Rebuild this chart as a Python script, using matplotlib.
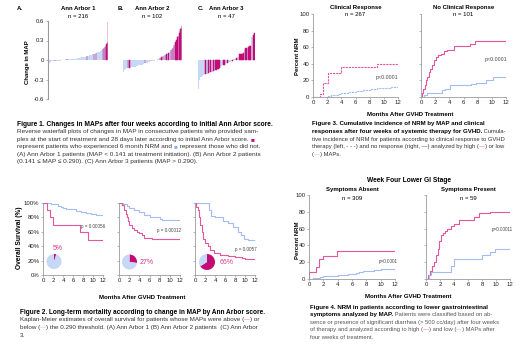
import matplotlib
matplotlib.use("Agg")
import matplotlib.pyplot as plt

plt.rcParams['font.family'] = ['Liberation Sans', 'DejaVu Sans']

# ---------------- data ----------------
# Figure 1: sorted change in MAP, one bar per patient
aa1_change = [
    -0.07, -0.06, -0.05, -0.05, -0.04, -0.04, -0.04, -0.03, -0.03, -0.03,
    -0.03, -0.03, -0.02, -0.02, -0.02, -0.02, -0.02, -0.02, -0.02, -0.02,
    -0.02, -0.02, -0.02, -0.02, -0.02, -0.02, -0.01, -0.01, -0.01, -0.01,
    -0.01, -0.01, -0.01, -0.01, -0.01,
    -0.01, -0.01, -0.01, -0.01, -0.01, -0.01, -0.01, -0.01, -0.01, -0.01,
    0.00, 0.00, 0.00, 0.00, 0.00, 0.00, 0.00, 0.00, 0.00, 0.00,
    0.00, 0.00, 0.00, 0.00, 0.00, 0.01, 0.01, 0.01, 0.01, 0.01,
    0.01, 0.01, 0.01, 0.01, 0.01, 0.01, 0.01, 0.01, 0.01, 0.01,
    0.01, 0.01, 0.01, 0.01, 0.01,
    0.01, 0.01, 0.01, 0.01, 0.01, 0.01, 0.01, 0.01, 0.01, 0.01,
    0.02, 0.02, 0.02, 0.02, 0.02, 0.02, 0.02, 0.02, 0.02, 0.02,
    0.02, 0.02, 0.02, 0.02, 0.03, 0.03, 0.03, 0.03, 0.03, 0.03,
    0.03, 0.03, 0.03, 0.03, 0.03, 0.03, 0.03, 0.04, 0.04, 0.04,
    0.04, 0.04, 0.04, 0.04, 0.04, 0.04, 0.04, 0.04, 0.04, 0.05,
    0.05, 0.05, 0.05, 0.05, 0.05, 0.05, 0.05, 0.05, 0.06, 0.06,
    0.06, 0.06, 0.06, 0.06, 0.06, 0.06, 0.07, 0.07, 0.07, 0.07,
    0.07, 0.07, 0.07, 0.08, 0.08, 0.08, 0.08, 0.08, 0.08, 0.09,
    0.09, 0.09, 0.09, 0.09, 0.09, 0.10, 0.10, 0.10, 0.10, 0.10,
    0.10, 0.10, 0.11, 0.11, 0.11, 0.11, 0.11, 0.11, 0.12, 0.12,
    0.12, 0.12, 0.12, 0.12, 0.13,
    0.13, 0.13, 0.13, 0.14, 0.14, 0.14, 0.15, 0.15, 0.15, 0.16,
    0.16, 0.17, 0.17, 0.17, 0.18, 0.18, 0.19, 0.19, 0.20, 0.20,
    0.21, 0.21, 0.22, 0.22, 0.23, 0.24, 0.25, 0.26, 0.27, 0.27,
    0.58,
]
aa1_nrm = [25, 68, 140, 165, 172, 196, 200, 204, 207, 210, 212, 214, 215]

aa2_change = [
    -0.18, -0.17, -0.16, -0.15, -0.14, -0.14, -0.13, -0.13, -0.13, -0.12,
    -0.12, -0.12, -0.12, -0.11, -0.11, -0.11, -0.11, -0.10, -0.10, -0.10,
    -0.10, -0.10, -0.09, -0.09, -0.09, -0.09, -0.08, -0.08, -0.08, -0.08,
    -0.07, -0.07, -0.07, -0.07, -0.06, -0.06, -0.06, -0.05, -0.05, -0.05,
    -0.04, -0.04, -0.04, -0.03, -0.03, -0.03, -0.02, -0.02, -0.02, -0.02,
    -0.01, -0.01, -0.01, -0.01, -0.01, 0.00, 0.00, 0.00,
    0.00, 0.01, 0.01, 0.02, 0.02, 0.03, 0.03, 0.04, 0.04, 0.05,
    0.05, 0.06, 0.06, 0.07, 0.07, 0.08, 0.08, 0.09, 0.10, 0.10,
    0.11, 0.12, 0.13, 0.14, 0.15, 0.16, 0.17, 0.18, 0.19, 0.21,
    0.23, 0.25, 0.27, 0.29, 0.31, 0.33, 0.35, 0.37, 0.39, 0.42,
    0.44, 0.47, 0.50, 0.53,
]
aa2_nrm = [8, 11, 38, 63, 66, 69, 72, 75, 78, 82, 84, 86, 88, 90, 92,
           94, 95, 97, 98, 99, 100, 101]

aa3_change = [
    -0.45, -0.30, -0.26, -0.24, -0.23, -0.22, -0.21, -0.21, -0.20, -0.19,
    -0.19, -0.18, -0.17, -0.16, -0.16, -0.15, -0.14, -0.12, -0.10, -0.09,
    -0.08, -0.07, -0.06, -0.05, -0.04, -0.03, -0.03, -0.02, -0.01, 0.01,
    0.02, 0.03, 0.04, 0.05, 0.09, 0.10, 0.10, 0.11, 0.16, 0.18,
    0.19, 0.20, 0.21, 0.22, 0.36, 0.38, 0.42,
]
aa3_nrm = [6, 8, 10, 12, 14, 15, 16, 17, 21, 24, 28, 31, 34, 35, 36, 37,
           39, 41, 42, 43, 45, 46]

# Figure 2: overall survival (%), high vs low MAP, three Ann Arbor groups
os1_hi_t = [0, 0.7, 1.4, 1.9, 7.4, 8.9, 12]
os1_hi = [100, 90, 80, 70, 60, 48, 48]
os1_lo_t = [0, 1.5, 2.5, 3.0, 3.5, 4.0, 4.5, 5.5, 6.5, 7.5, 8.5, 9.5, 10.5, 12]
os1_lo = [100, 99, 98, 96, 95, 93, 92, 91, 89, 88, 86, 85, 83, 82]
os2_hi_t = [0, 0.5, 1.0, 1.3, 1.6, 1.8, 2.0, 2.6, 3.0, 3.5, 4.0, 4.5, 5.0, 6.5, 12]
os2_hi = [100, 97, 90, 85, 80, 75, 70, 65, 62, 60, 58, 55, 52, 50, 50]
os2_lo_t = [0, 0.7, 1.0, 1.5, 2.0, 3.0, 4.0, 5.0, 6.0, 8.0, 8.5, 12]
os2_lo = [100, 99, 98, 96, 93, 90, 87, 84, 80, 78, 77, 77]
os3_hi_t = [0, 0.2, 0.5, 0.8, 1.0, 1.3, 1.6, 2.0, 2.5, 3.0, 3.8, 5.0, 6.5, 8.0, 9.3, 10.0, 12]
os3_hi = [100, 95, 90, 80, 70, 60, 50, 45, 40, 35, 30, 28, 27, 25, 23, 22, 22]
os3_lo_t = [0, 2.7, 3.2, 4.0, 5.5, 6.5, 7.5, 8.5, 9.2, 9.8, 10.5, 12]
os3_lo = [100, 90, 82, 80, 75, 72, 67, 60, 55, 50, 48, 48]
pie_hi_pct = [5, 27, 66]
os_pvals = ["p = 0.00056", "p = 0.00012", "p = 0.0057"]

# Figure 3: cumulative NRM (%), by clinical response
cr_hi_t = [0, 1.0, 1.45, 2.05, 4.0, 9.0, 12]
cr_hi = [0, 4, 17, 29, 36, 40, 40]
cr_lo_t = [0, 2.0, 2.5, 3.0, 3.5, 4.0, 5, 6, 7, 8, 9, 10, 11, 12]
cr_lo = [0, 1, 2, 3, 4, 5, 5.5, 7, 8, 10, 11, 11, 12, 12]
ncr_hi_t = [0, 0.15, 0.3, 0.5, 0.7, 0.9, 1.1, 1.3, 1.5, 1.8, 2.1, 2.4, 2.8, 3.2,
            3.6, 4.7, 6.9, 7.6, 12]
ncr_hi = [0, 5, 10, 14, 20, 24, 30, 34, 38, 44, 48, 50, 52, 55, 57, 62, 64, 67, 67]
ncr_lo_t = [0, 0.4, 0.8, 2.7, 3.0, 3.4, 4.1, 6.0, 7.0, 7.8, 9.2, 10.2, 12]
ncr_lo = [0, 2, 5, 5, 8, 10, 14, 15, 16, 17, 20, 24, 24]

# Figure 4: cumulative NRM (%), by lower GI symptoms
abs_hi_t = [0, 0.05, 1.0, 1.45, 1.9, 3.9, 12]
abs_hi = [0, 8, 14, 24, 27, 33, 33]
abs_lo_t = [0, 0.5, 1.5, 2.0, 3.5, 4.0, 5.5, 6.5, 7.0, 7.5, 8.0, 9.0, 10.0, 12]
abs_lo = [0, 1, 2, 3, 4, 5, 6, 7, 8, 9, 10, 11, 12, 13]
pres_hi_t = [0, 0.3, 0.6, 0.8, 1.1, 1.4, 1.7, 1.9, 2.1, 2.4, 2.7, 3.0, 3.5, 4.0,
             4.7, 6.8, 7.5, 9.1, 12]
pres_hi = [0, 5, 10, 15, 20, 28, 36, 45, 52, 55, 57, 60, 63, 65, 70, 74, 78, 80, 80]
pres_lo_t = [0, 0.4, 0.7, 3.2, 3.5, 4.0, 7.0, 8.0, 9.1, 9.8, 12]
pres_lo = [0, 5, 8, 8, 16, 24, 24, 28, 32, 36, 37]

# ---------------- styling ----------------
W, H = 520, 357
MAGENTA = '#c40c77'
PINK = '#e5579c'
LBLUE = '#c6d8f6'
BLUE = '#a4bdf0'
GRAY = '#9a9a9a'
TXT = '#333333'
FS = 4.3

fig = plt.figure(figsize=(5.2, 3.57), dpi=100)

over = fig.add_axes([0, 0, 1, 1])
over.set_xlim(0, W)
over.set_ylim(H, 0)
over.axis('off')
over.set_zorder(10)


def px_axes(x0, y0, x1, y1):
    return fig.add_axes([x0 / W, 1 - y1 / H, (x1 - x0) / W, (y1 - y0) / H])


def txt(x, y, s, size=FS, weight='bold', color='black', ha='center', **kw):
    return over.text(x, y, s, fontsize=size, fontweight=weight, color=color,
                     ha=ha, va='center', **kw)


def rich(x, y, parts, size=FS):
    prev = None
    for s, c, w in parts:
        # bold runs a touch larger, like the source layout
        fs = size + 0.2 if w == 'bold' else size
        if prev is None:
            prev = over.text(x, y, s, fontsize=fs, color=c, fontweight=w,
                             ha='left', va='center')
        else:
            prev = over.annotate(s, xy=(1, 0), xycoords=prev, fontsize=fs,
                                 color=c, fontweight=w, ha='left', va='bottom')


def caption(x, y0, step, lines, size=FS):
    for i, parts in enumerate(lines):
        rich(x, y0 + i * step, parts, size)


def curve_axes(ax, show_y, pct=False):
    for s in ['top', 'right']:
        ax.spines[s].set_visible(False)
    for s in ['left', 'bottom']:
        ax.spines[s].set_color(GRAY)
        ax.spines[s].set_linewidth(0.6)
    ax.set_xlim(0, 12)
    ax.set_ylim(0, 100)
    ax.set_xticks(range(0, 13, 2))
    ax.set_yticks(range(0, 101, 20))
    if pct:
        ax.set_yticklabels([f"{v}%" for v in range(0, 101, 20)])
    if not show_y:
        ax.set_yticklabels([])
    ax.tick_params(labelsize=FS, length=1.5, width=0.5, pad=1,
                   color=GRAY, labelcolor='#222222')


# ---------------- Figure 1: waterfall plots ----------------
panels1 = [(48, 108, aa1_change, aa1_nrm, "A.", "Ann Arbor 1", "n = 216"),
           (123, 182, aa2_change, aa2_nrm, "B.", "Ann Arbor 2", "n = 102"),
           (198, 255, aa3_change, aa3_nrm, "C.", "Ann Arbor 3", "n = 47")]
for k, (x0, x1, vals, nrm, lab, title, n) in enumerate(panels1):
    ax = px_axes(x0, 21, x1, 99)
    idx = list(range(len(vals)))
    ax.bar(idx, vals, width=1.0, color=LBLUE, linewidth=0)
    ax.bar(nrm, [vals[i] for i in nrm], width=1.0 if len(vals) < 60 else 0.6,
           color=MAGENTA, edgecolor=MAGENTA, linewidth=0.35)
    ax.set_xlim(-0.5, len(vals) - 0.5)
    ax.set_ylim(-0.6, 0.6)
    for s in ['top', 'right', 'bottom', 'left']:
        ax.spines[s].set_visible(False)
    ax.set_xticks([])
    if k == 0:
        ax.spines['left'].set_visible(True)
        ax.spines['left'].set_color(GRAY)
        ax.spines['left'].set_linewidth(0.8)
        ax.set_yticks([-0.6, -0.3, 0, 0.3, 0.6])
        ax.set_yticklabels(['-0.6', '-0.3', '0', '0.3', '0.6'])
        ax.tick_params(labelsize=FS, length=1.5, width=0.5, pad=1.5,
                       color=GRAY, labelcolor='#222222')
    else:
        ax.set_yticks([])
    txt((x0 + x1) / 2, 9, title)
    txt((x0 + x1) / 2, 16.5, n, weight='normal')
    txt([19.5, 121, 200.5][k], 9, lab)
txt(28, 62, "Change in MAP", rotation=90)

caption(17, 124, 7.6, [
    [("Figure 1. Changes in MAPs after four weeks according to initial Ann Arbor score.", 'black', 'bold')],
    [("Reverse waterfall plots of changes in MAP in consecutive patients who provided sam-", TXT, 'normal')],
    [("ples at the start of treatment and 28 days later according to initial Ann Arbor score. ", TXT, 'normal'),
     ("\u25a0", MAGENTA, 'normal')],
    [("represent patients who experienced 6 month NRM and ", TXT, 'normal'),
     ("\u25a0", '#8fb0ee', 'normal'), (" represent those who did not.", TXT, 'normal')],
    [("(A) Ann Arbor 1 patients (MAP < 0.141 at treatment initiation). (B) Ann Arbor 2 patients", TXT, 'normal')],
    [("(0.141 \u2264 MAP \u2264 0.290). (C) Ann Arbor 3 patients (MAP > 0.290).", TXT, 'normal')],
], size=4.55)

# ---------------- Figure 3: NRM by clinical response ----------------
ax3a = px_axes(313, 14, 398, 97)
ax3b = px_axes(421, 14, 506, 97)
ax3a.step(cr_hi_t, cr_hi, where='post', color=PINK, lw=0.8, ls=(0, (2, 0.8)))
ax3a.step(cr_lo_t, cr_lo, where='post', color=BLUE, lw=0.8, ls=(0, (2, 0.8)))
ax3b.step(ncr_hi_t, ncr_hi, where='post', color=PINK, lw=0.8)
ax3b.step(ncr_lo_t, ncr_lo, where='post', color=BLUE, lw=0.8)
curve_axes(ax3a, True)
curve_axes(ax3b, False)
ax3a.text(8.9, 24, "p<0.0001", fontsize=3.8, color='#444444', va='center')
ax3b.text(9.0, 45, "p<0.0001", fontsize=3.8, color='#444444', va='center')
txt(355.5, 7, "Clinical Response")
txt(355.5, 15, "n = 267", weight='normal')
txt(463.5, 7, "No Clinical Response")
txt(463.5, 15, "n = 101", weight='normal')
txt(297.5, 56, "Percent NRM", rotation=90)
txt(410, 114, "Months After GVHD Treatment")

caption(312, 123.5, 7.8, [
    [("Figure 3. Cumulative incidence of NRM by MAP and clinical", 'black', 'bold')],
    [("responses after four weeks of systemic therapy for GVHD.", 'black', 'bold'),
     (" Cumula-", TXT, 'normal')],
    [("tive incidence of NRM for patients according to clinical response to GVHD", TXT, 'normal')],
    [("therapy (left, - - -) and no response (right, \u2014) analyzed by high (", TXT, 'normal'),
     ("\u2014", PINK, 'normal'), (") or low", TXT, 'normal')],
    [("(", TXT, 'normal'), ("\u2014", BLUE, 'normal'), (") MAPs.", TXT, 'normal')],
], size=4.25)

# ---------------- Figure 2: overall survival ----------------
panels2 = [(43, 103, os1_hi_t, os1_hi, os1_lo_t, os1_lo, 7.6, 68),
           (119, 180, os2_hi_t, os2_hi, os2_lo_t, os2_lo, 7.5, 62),
           (195, 255, os3_hi_t, os3_hi, os3_lo_t, os3_lo, 8.0, 35)]
pie_pos = [(54, 261.5, 7.5), (129.5, 262, 7.5), (207, 262, 8)]
pie_lab = [(57.5, 248), (147, 262), (226.5, 262)]
for k, (x0, x1, ht, hv, lt, lv, px, py) in enumerate(panels2):
    ax = px_axes(x0, 203, x1, 275)
    ax.step(lt, lv, where='post', color=BLUE, lw=0.8)
    ax.step(ht, hv, where='post', color=PINK, lw=0.8)
    curve_axes(ax, k == 0, pct=True)
    ax.text(px, py, os_pvals[k], fontsize=3.3, color='#444444', va='center')
    cx, cy, r = pie_pos[k]
    pax = px_axes(cx - r, cy - r, cx + r, cy + r)
    pax.pie([pie_hi_pct[k], 100 - pie_hi_pct[k]], colors=[MAGENTA, LBLUE],
            startangle=90, counterclock=False)
    pax.set_xlim(-1, 1)
    pax.set_ylim(-1, 1)
    pax.set_aspect('equal')
    lx, ly = pie_lab[k]
    txt(lx, ly, f"{pie_hi_pct[k]}%", size=5, weight='normal', color='#d63a8e')
txt(19.5, 238, "Overall Survival (%)", size=4.8, rotation=90)
txt(142, 297.5, "Months After GVHD Treatment")

caption(20, 312, 7.7, [
    [("Figure 2. Long-term mortality according to change in MAP by Ann Arbor score.", 'black', 'bold')],
    [("Kaplan-Meier estimates of overall survival for patients whose MAPs were above (", TXT, 'normal'),
     ("\u2014", PINK, 'normal'), (") or", TXT, 'normal')],
    [("below (", TXT, 'normal'), ("\u2014", BLUE, 'normal'),
     (") the 0.290 threshold. (A) Ann Arbor 1 (B) Ann Arbor 2 patients  (C) Ann Arbor", TXT, 'normal')],
    [("3.", TXT, 'normal')],
], size=4.5)

# ---------------- Figure 4: NRM by lower GI symptoms ----------------
ax4a = px_axes(309, 195, 395, 279)
ax4b = px_axes(426, 195, 510, 279)
ax4a.step(abs_hi_t, abs_hi, where='post', color=PINK, lw=0.8)
ax4a.step(abs_lo_t, abs_lo, where='post', color=BLUE, lw=0.8)
ax4b.step(pres_hi_t, pres_hi, where='post', color=PINK, lw=0.8)
ax4b.step(pres_lo_t, pres_lo, where='post', color=BLUE, lw=0.8)
curve_axes(ax4a, True)
curve_axes(ax4b, False)
ax4a.text(9.8, 21, "p=0.0001", fontsize=3.3, color='#444444', va='center')
ax4b.text(9.4, 59, "p=0.00011", fontsize=3.3, color='#444444', va='center')
txt(409, 180, "Week Four Lower GI Stage", size=4.8)
txt(352, 190, "Symptoms Absent")
txt(352, 199, "n = 309", weight='normal')
txt(468, 190, "Symptoms Present")
txt(468, 199, "n = 59", weight='normal')
txt(297.5, 240, "Percent NRM", rotation=90)
txt(408, 296.5, "Months After GVHD Treatment")

caption(310, 307, 7.6, [
    [("Figure 4. NRM in patients according to lower gastrointestinal", 'black', 'bold')],
    [("symptoms analyzed by MAP.", 'black', 'bold'),
     (" Patients were classified based on ab-", '#555555', 'normal')],
    [("sence or presence of significant diarrhea (> 500 cc/day) after four weeks", '#555555', 'normal')],
    [("of therapy and analyzed according to high (", '#555555', 'normal'), ("\u2014", PINK, 'normal'),
     (") and low (", '#555555', 'normal'), ("\u2014", BLUE, 'normal'), (") MAPs after", '#555555', 'normal')],
    [("four weeks of treatment.", '#555555', 'normal')],
], size=4.25)

fig.savefig("out.png", dpi=100)
